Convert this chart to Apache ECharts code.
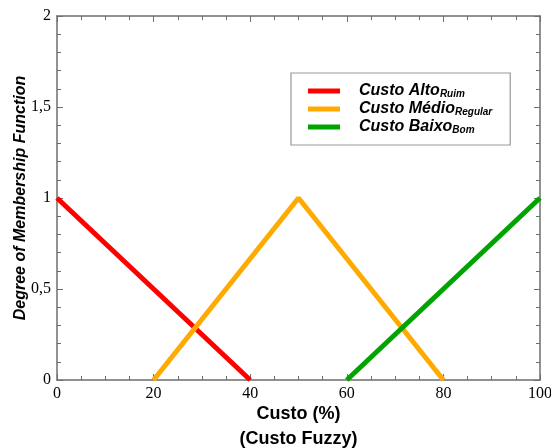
<!DOCTYPE html>
<html><head><meta charset="utf-8">
<script src="https://cdn.jsdelivr.net/npm/echarts@6/dist/echarts.min.js"></script>
<style>html,body{margin:0;padding:0;background:#fff}#c{width:551px;height:448px}</style>
</head><body><div id="c"></div>
<script>
const seriesNames = ['Custo Alto', 'Custo Médio', 'Custo Baixo'];
const subscripts = ['Ruim', 'Regular', 'Bom'];
const colors = ['#ff0000', '#ffaa00', '#00a400'];
const altoData = [[0, 1], [40, 0]];
const medioData = [[20, 0], [50, 1], [80, 0]];
const baixoData = [[60, 0], [100, 1]];
const xTicks = [0, 20, 40, 60, 80, 100];
const yTicks = [0, 0.5, 1, 1.5, 2];

const chart = echarts.init(document.getElementById('c'), null, {renderer: 'canvas'});
const axisColor = '#6e6e6e';
const serif = '"Liberation Serif","Times New Roman",serif';
const sans = '"Liberation Sans",Arial,sans-serif';
function baseX(show) {
  return {
    type: 'value', min: xTicks[0], max: xTicks[xTicks.length - 1], interval: 20,
    axisLine: {show: true, onZero: false, lineStyle: {color: axisColor, width: 1.5}},
    axisTick: {show: true, inside: true, length: 6, lineStyle: {color: axisColor}},
    minorTick: {show: true, splitNumber: 4, length: 4, lineStyle: {color: axisColor}},
    splitLine: {show: false},
    axisLabel: {show: show, margin: 6, color: '#000', fontFamily: serif, fontSize: 16,
      formatter: v => String(v)}
  };
}
function baseY(show) {
  return {
    type: 'value', min: yTicks[0], max: yTicks[yTicks.length - 1], interval: 0.5,
    axisLine: {show: true, onZero: false, lineStyle: {color: axisColor, width: 1.5}},
    axisTick: {show: true, inside: true, length: 6, lineStyle: {color: axisColor}},
    minorTick: {show: true, splitNumber: 5, length: 4, lineStyle: {color: axisColor}},
    splitLine: {show: false},
    axisLabel: {show: show, margin: 6, color: '#000', fontFamily: serif, fontSize: 16,
      formatter: v => String(v).replace('.', ',')}
  };
}
const xb = baseX(true);
xb.position = 'bottom';
xb.name = 'Custo (%)\n(Custo Fuzzy)';
xb.nameLocation = 'middle';
xb.nameGap = 22;
xb.nameMoveOverlap = false;
xb.nameTextStyle = {color: '#000', fontFamily: sans, fontWeight: 'bold', fontSize: 18, lineHeight: 25, verticalAlign: 'top'};
const xt = baseX(false); xt.position = 'top';
const yl = baseY(true);
yl.position = 'left';
yl.name = 'Degree of Membership Function';
yl.nameLocation = 'middle';
yl.nameGap = 28;
yl.nameMoveOverlap = false;
yl.nameTextStyle = {color: '#000', fontFamily: sans, fontWeight: 'bold', fontStyle: 'italic', fontSize: 16};
const yr = baseY(false); yr.position = 'right';

const datas = [altoData, medioData, baixoData];
chart.setOption({
  animation: false,
  grid: {left: 57, right: 11, top: 16, bottom: 68, containLabel: false, outerBoundsMode: 'none'},
  xAxis: [xb, xt],
  yAxis: [yl, yr],
  legend: {
    orient: 'vertical', left: 291, top: 73,
    borderColor: '#999', borderWidth: 1.2, borderRadius: 0,
    padding: [10, 18, 10, 17], itemGap: 2,
    itemWidth: 32, itemHeight: 5, icon: 'rect',
    data: seriesNames,
    formatter: name => {
      const i = seriesNames.indexOf(name);
      return '{a|' + name + '}{b|' + subscripts[i] + '}';
    },
    textStyle: {
      rich: {
        a: {fontFamily: sans, fontWeight: 'bold', fontStyle: 'italic', fontSize: 16, color: '#000', padding: [0, 0, 0, 14]},
        b: {fontFamily: sans, fontWeight: 'bold', fontStyle: 'italic', fontSize: 10, color: '#000', padding: [6, 0, 0, 0]}
      }
    }
  },
  series: seriesNames.map((n, i) => ({
    name: n, type: 'line', data: datas[i], xAxisIndex: 0, yAxisIndex: 0,
    symbol: 'none', color: colors[i],
    lineStyle: {width: 5, color: colors[i]}
  }))
});
</script></body></html>
